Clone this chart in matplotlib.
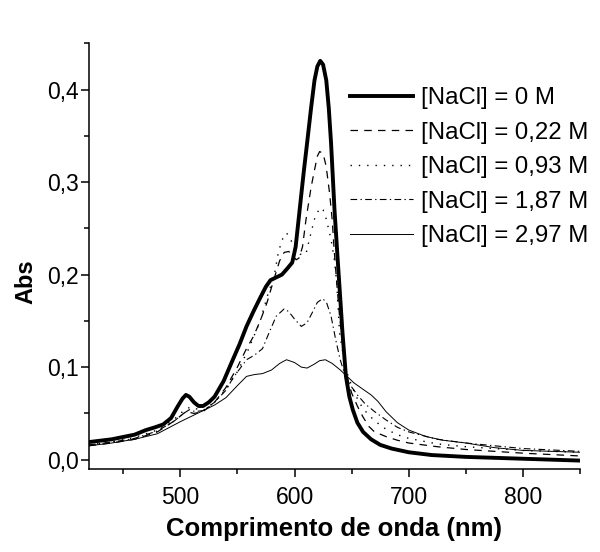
import matplotlib
matplotlib.use("Agg")
import matplotlib.pyplot as plt
from matplotlib import ticker
from matplotlib import font_manager

# espectros de absorcao
w0 = [420, 440, 460, 470, 478, 485, 492, 498, 502, 505, 508, 512, 516, 520, 525, 530, 538, 546, 552, 558,
      564, 570, 575, 579, 584, 589, 594, 598, 601, 604.5, 608, 611, 614.5, 617.5, 620, 622.5, 625, 627.8,
      630, 632, 635, 637.8, 640, 642, 645, 648, 651, 655, 660, 667, 675, 685, 700, 720, 750, 775, 800, 825, 850]
a0 = [0.019, 0.022, 0.027, 0.032, 0.035, 0.038, 0.045, 0.058, 0.066, 0.070, 0.068, 0.062, 0.058, 0.058,
      0.062, 0.068, 0.085, 0.108, 0.125, 0.144, 0.160, 0.175, 0.187, 0.194, 0.197, 0.200, 0.207, 0.213,
      0.230, 0.270, 0.310, 0.342, 0.380, 0.410, 0.425, 0.431, 0.427, 0.410, 0.380, 0.342, 0.270, 0.216,
      0.175, 0.137, 0.090, 0.068, 0.054, 0.040, 0.030, 0.022, 0.016, 0.012, 0.008, 0.005, 0.003, 0.002,
      0.001, 0.000, -0.001]

w1 = [420, 440, 460, 480, 495, 505, 512, 520, 530, 540, 550, 558, 564, 570, 576, 582, 587, 591, 595, 598,
      601.5, 604, 607, 610, 614.6, 617.5, 620, 622, 625, 627.7, 630.7, 633, 634.5, 636.5, 639.4, 643.8, 647,
      650, 655, 660, 665, 670, 680, 690, 700, 725, 750, 800, 850]
a1 = [0.015, 0.018, 0.022, 0.030, 0.042, 0.052, 0.050, 0.052, 0.062, 0.078, 0.100, 0.120, 0.133, 0.150,
      0.170, 0.195, 0.215, 0.224, 0.225, 0.221, 0.216, 0.218, 0.230, 0.259, 0.295, 0.313, 0.328, 0.333,
      0.331, 0.317, 0.288, 0.259, 0.230, 0.198, 0.155, 0.108, 0.085, 0.072, 0.058, 0.046, 0.036, 0.030,
      0.025, 0.021, 0.018, 0.014, 0.011, 0.007, 0.004]

w2 = [420, 440, 460, 480, 495, 503, 509, 514, 520, 530, 540, 550, 560, 570, 577, 582, 586, 590, 593, 596,
      600, 605, 610, 613, 617.5, 622, 625, 627.8, 632, 635, 637, 639.4, 643.8, 647, 650, 655, 660, 670, 680,
      690, 700, 725, 750, 800, 850]
a2 = [0.016, 0.019, 0.024, 0.032, 0.044, 0.053, 0.057, 0.055, 0.053, 0.062, 0.076, 0.095, 0.120, 0.150,
      0.180, 0.197, 0.225, 0.240, 0.245, 0.240, 0.228, 0.222, 0.222, 0.238, 0.260, 0.272, 0.270, 0.260,
      0.238, 0.215, 0.190, 0.137, 0.105, 0.090, 0.080, 0.066, 0.055, 0.042, 0.033, 0.027, 0.023, 0.017,
      0.014, 0.010, 0.008]

w3 = [420, 440, 460, 480, 495, 503, 508, 513, 520, 530, 540, 546, 552, 558, 565, 572, 578, 584, 591, 595,
      600, 606, 611, 616, 620, 624.6, 628, 632, 636, 640, 644, 648, 655, 662, 670, 680, 690, 700, 725, 750,
      800, 850]
a3 = [0.016, 0.019, 0.023, 0.031, 0.042, 0.050, 0.054, 0.052, 0.053, 0.062, 0.075, 0.088, 0.098, 0.108,
      0.113, 0.120, 0.138, 0.155, 0.163, 0.160, 0.152, 0.144, 0.148, 0.160, 0.170, 0.174, 0.170, 0.155,
      0.130, 0.108, 0.092, 0.082, 0.070, 0.060, 0.052, 0.043, 0.035, 0.030, 0.022, 0.018, 0.012, 0.009]

w4 = [420, 440, 460, 480, 500, 515, 530, 540, 550, 558, 565, 572, 580, 587, 593, 600, 606, 611, 617, 622,
      627, 633, 640, 646, 652, 660, 667, 673, 680, 690, 700, 715, 730, 750, 775, 800, 825, 850]
a4 = [0.015, 0.018, 0.022, 0.028, 0.041, 0.050, 0.059, 0.067, 0.080, 0.090, 0.092, 0.093, 0.097, 0.104,
      0.108, 0.105, 0.100, 0.099, 0.103, 0.107, 0.108, 0.104, 0.097, 0.090, 0.083, 0.076, 0.070, 0.063,
      0.052, 0.040, 0.032, 0.025, 0.021, 0.018, 0.013, 0.010, 0.009, 0.008]

rotulos = ['[NaCl] = 0 M', '[NaCl] = 0,22 M', '[NaCl] = 0,93 M', '[NaCl] = 1,87 M', '[NaCl] = 2,97 M']

# fonte estreita se existir (o Origin comprime o texto)
try:
    font_manager.findfont('Liberation Sans Narrow', fallback_to_default=False)
    estreita = 'Liberation Sans Narrow'
    tam_leg, tam_x, tam_y = 21, 22, 19.5
except Exception:
    estreita = 'Liberation Sans'
    tam_leg, tam_x, tam_y = 17.3, 18.5, 17

plt.rcParams['font.family'] = ['Liberation Sans', 'DejaVu Sans']

fig = plt.figure(figsize=(6, 5.52), dpi=100)
ax = fig.add_axes([0.148, 0.150, 0.819, 0.7716])

ax.plot(w0, a0, color='black', lw=2.8, ls='-', label=rotulos[0])
ax.plot(w1, a1, color='black', lw=0.9, ls=(0, (6, 5)), label=rotulos[1])
ax.plot(w2, a2, color='black', lw=1.0, ls=(0, (1, 5)), label=rotulos[2])
ax.plot(w3, a3, color='black', lw=0.8, ls=(0, (6, 3, 1.2, 3)), label=rotulos[3])
ax.plot(w4, a4, color='black', lw=0.7, ls='-', label=rotulos[4])

ax.set_xlim(420, 850)
ax.set_ylim(-0.0103, 0.45)
ax.xaxis.set_major_locator(ticker.MultipleLocator(100))
ax.xaxis.set_minor_locator(ticker.MultipleLocator(50))
ax.yaxis.set_major_locator(ticker.MultipleLocator(0.1))
ax.yaxis.set_minor_locator(ticker.MultipleLocator(0.05))
ax.yaxis.set_major_formatter(ticker.FuncFormatter(lambda v, p: ('%.1f' % v).replace('.', ',')))

for lado in ['top', 'right']:
    ax.spines[lado].set_visible(False)
for lado in ['left', 'bottom']:
    ax.spines[lado].set_linewidth(1.1)

ax.tick_params(which='major', direction='out', length=5.8, width=1.1, labelsize=16.5)
ax.tick_params(which='minor', direction='out', length=3.6, width=1.1)
ax.tick_params(axis='x', which='major', pad=6)
ax.tick_params(axis='y', which='major', pad=1.5)

ax.set_xlabel('Comprimento de onda (nm)', fontsize=tam_x, fontweight='bold', family=[estreita, 'DejaVu Sans'])
ax.set_ylabel('Abs', fontsize=tam_y, fontweight='bold', family=[estreita, 'DejaVu Sans'])
ax.xaxis.set_label_coords(0.5, -0.113)
ax.yaxis.set_label_coords(-0.104, 0.44)

ax.legend(loc='upper left', bbox_to_anchor=(0.583, 0.842), bbox_transform=fig.transFigure,
          frameon=False, borderpad=0, borderaxespad=0, handlelength=2.65, handletextpad=0.3,
          labelspacing=0.52, prop={'family': [estreita, 'DejaVu Sans'], 'size': tam_leg})

fig.savefig('out.png', dpi=100)
